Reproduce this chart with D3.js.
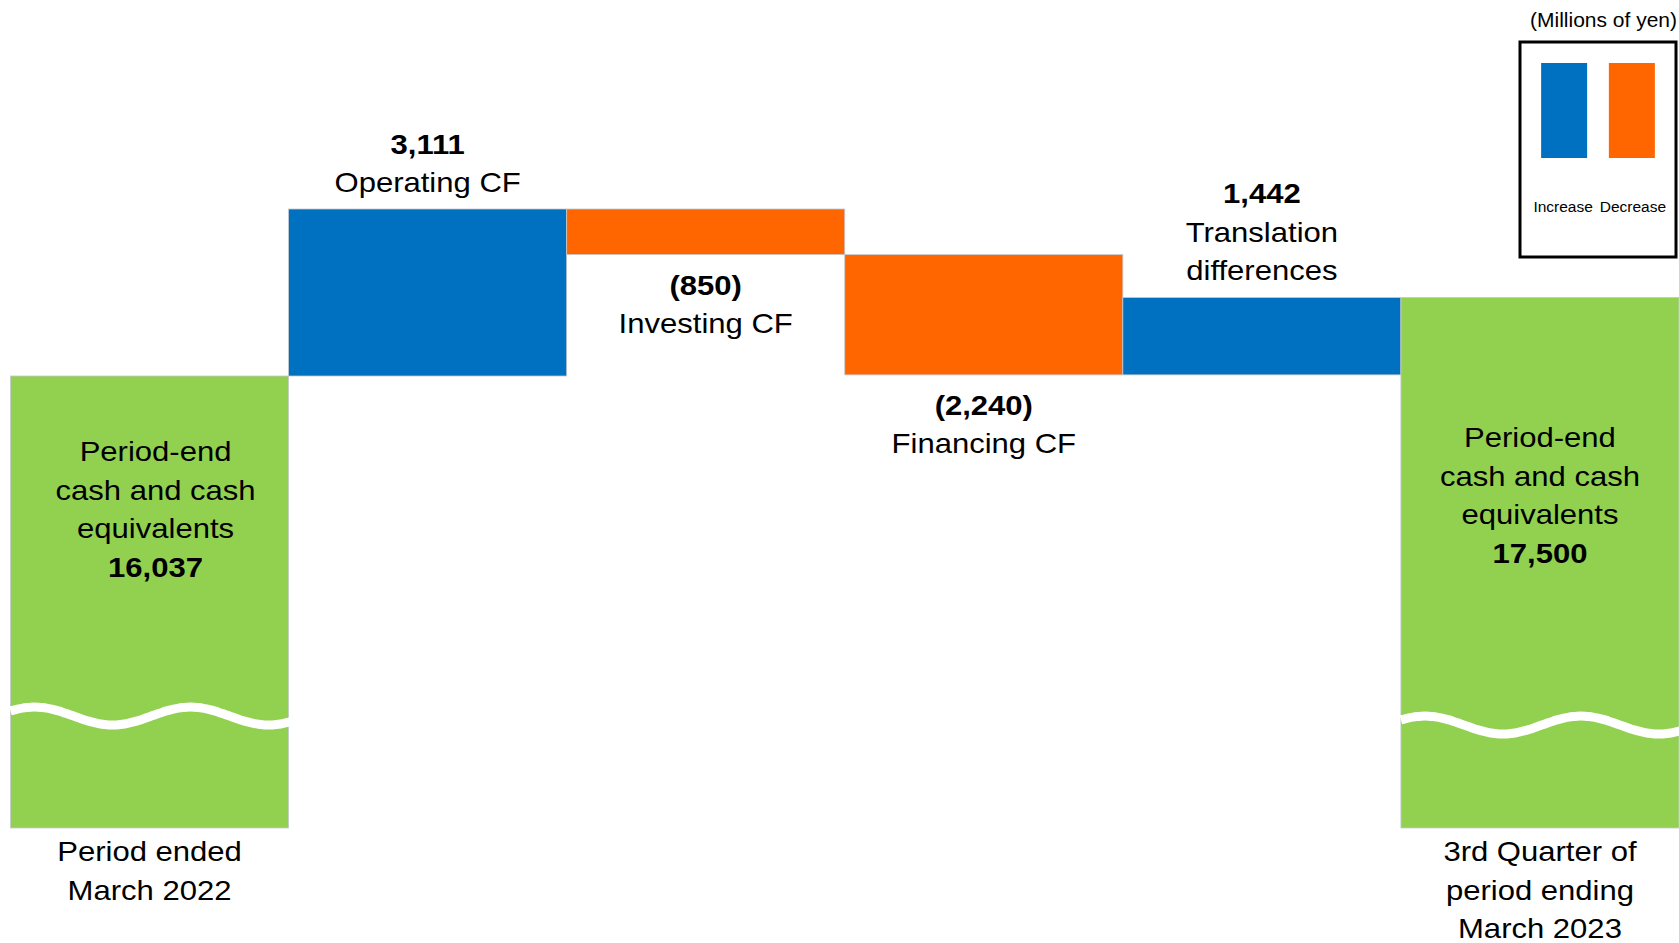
<!DOCTYPE html>
<html>
<head>
<meta charset="utf-8">
<script src="https://cdn.jsdelivr.net/npm/d3@7"></script>
<style>
  html, body { margin: 0; padding: 0; background: #fff; }
  svg { display: block; font-family: "Liberation Sans", Arial, sans-serif; }
</style>
</head>
<body>
<div id="chart"></div>
<script>
// cash flow bridge, millions of yen
var steps = ["start", "operating", "investing", "financing", "translation", "end"];
var kinds = ["total", "delta", "delta", "delta", "delta", "total"];
var values = [16037, 3111, -850, -2240, 1442, 17500];
var valueLabels = ["16,037", "3,111", "(850)", "(2,240)", "1,442", "17,500"];
var stepNames = [
    [],
    ["Operating CF"],
    ["Investing CF"],
    ["Financing CF"],
    ["Translation", "differences"],
    []
];
var totalCaption = ["Period-end", "cash and cash", "equivalents"];
var periodLabels = [
    ["Period ended", "March 2022"],
    [], [], [], [],
    ["3rd Quarter of", "period ending", "March 2023"]
];
var legendItems = ["Increase", "Decrease"];
var unitLabel = "(Millions of yen)";

const W = 1679, H = 943;
const breakBottom = 828;      // totals are cut off here (broken axis)
const lineGap = 38.5;
const stretch = 1.15;         // text in the slide is a bit wide
const fontSize = 27;

var colors = { increase: "#0070C0", decrease: "#FF6600", total: "#92D050" };

var svg = d3.select("#chart").append("svg")
    .attr("width", W).attr("height", H);

var x = d3.scaleBand().domain(steps).range([10.5, W]).padding(0);
var y = d3.scaleLinear().domain([16037, 16037 + 3111]).range([376, 209]);

// running totals
var bars = [];
var run = 0;
steps.forEach(function(s, i) {
    if (kinds[i] === "total") {
        run = values[i];
        bars.push({ step: s, i: i, kind: "total", lo: null, hi: values[i] });
    } else {
        var start = run;
        run = run + values[i];
        bars.push({ step: s, i: i, kind: values[i] >= 0 ? "increase" : "decrease",
            lo: Math.min(start, run), hi: Math.max(start, run) });
    }
});

function addText(g, cx, by, txt, opts) {
    opts = opts || {};
    return g.append("text")
        .attr("transform", "translate(" + cx + "," + by + ") scale(" + (opts.sx || stretch) + ",1)")
        .attr("text-anchor", opts.anchor || "middle")
        .attr("font-size", opts.size || fontSize)
        .attr("font-weight", opts.bold ? "bold" : "normal")
        .attr("fill", "#000")
        .text(txt);
}

var g = svg.append("g");

g.selectAll("rect.bar").data(bars).enter()
    .append("rect")
    .attr("class", "bar")
    .attr("x", d => x(d.step))
    .attr("width", x.bandwidth())
    .attr("y", d => y(d.hi))
    .attr("height", d => d.kind === "total" ? breakBottom - y(d.hi) : y(d.lo) - y(d.hi))
    .attr("fill", d => colors[d.kind])
    .attr("stroke", "#c4c9d0")
    .attr("stroke-width", 0.8);

// wavy break on the total bars
var waveMid = { start: 716, end: 725 };
var wave = d3.line().curve(d3.curveBasis);
bars.filter(d => d.kind === "total").forEach(function(d) {
    var x0 = x(d.step), pts = [];
    for (var t = 0; t <= x.bandwidth() + 4; t += 4) {
        pts.push([x0 + t, waveMid[d.step] - 9 * Math.cos(2 * Math.PI * (t - 24) / 156)]);
    }
    g.append("path")
        .attr("d", wave(pts))
        .attr("fill", "none")
        .attr("stroke", "#fff")
        .attr("stroke-width", 9);
});

// labels for the steps
var innerTop = { start: 461, end: 447 };
var innerShift = { start: 6, end: 0 };
bars.forEach(function(d) {
    var cx = x(d.step) + x.bandwidth() / 2;
    if (d.kind === "total") {
        var lines = totalCaption.concat([valueLabels[d.i]]);
        lines.forEach(function(t, k) {
            addText(g, cx + innerShift[d.step], innerTop[d.step] + k * lineGap, t, { bold: k === lines.length - 1 });
        });
        periodLabels[d.i].forEach(function(t, k) {
            addText(g, cx, breakBottom + 33 + k * lineGap, t);
        });
    } else {
        var lines2 = [valueLabels[d.i]].concat(stepNames[d.i]);
        var first;
        if (d.kind === "increase") {
            first = y(d.hi) - 17 - (lines2.length - 1) * lineGap;
        } else {
            first = y(d.lo) + 40;
        }
        lines2.forEach(function(t, k) {
            addText(g, cx, first + k * lineGap, t, { bold: k === 0 });
        });
    }
});

// legend
var leg = svg.append("g");
addText(leg, 1677, 27, unitLabel, { anchor: "end", size: 20, sx: 1.05 });
leg.append("rect")
    .attr("x", 1520).attr("y", 42)
    .attr("width", 156).attr("height", 215)
    .attr("fill", "none").attr("stroke", "#000").attr("stroke-width", 3);
var legX = d3.scaleBand().domain(legendItems).range([1530, 1666]).paddingInner(0.05);
legendItems.forEach(function(item, i) {
    var cx = legX(item) + legX.bandwidth() / 2;
    leg.append("rect")
        .attr("x", cx - 23 + (i === 0 ? 1 : -1)).attr("y", 63)
        .attr("width", 46).attr("height", 95)
        .attr("fill", i === 0 ? colors.increase : colors.decrease);
    addText(leg, cx, 212, item, { size: 15.5, sx: 1.0 });
});
</script>
</body>
</html>
